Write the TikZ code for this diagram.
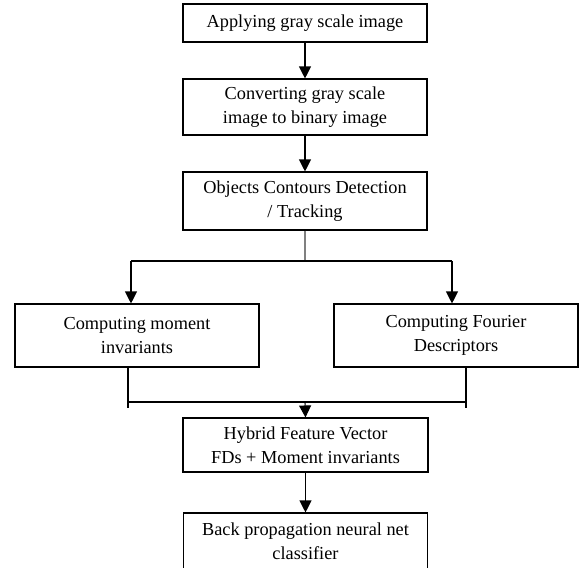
\documentclass[tikz,border=0pt]{standalone}
\usepackage{fontspec}
\setmainfont{Liberation Serif}
\usetikzlibrary{arrows.meta}
\begin{document}
\begin{tikzpicture}[x=1pt,y=-1pt,
  box/.style={draw, line width=1.1pt, minimum width=244pt, inner sep=0pt, align=center,
    font=\fontsize{18.3}{24}\selectfont},
  arr/.style={line width=1.1pt, -{Triangle[length=12pt,width=12pt]}},
  ln/.style={line width=1.1pt}]
\useasboundingbox (0,0) rectangle (579,568);
\node[box, minimum height=38pt] (b1) at (305,23) {Applying gray scale image};
\node[box, minimum height=56pt] (b2) at (305,107) {Converting gray scale\\image to binary image};
\node[box, minimum height=58pt] (b3) at (305,201) {Objects Contours Detection\\/ Tracking};
\node[box, minimum height=63pt] (bl) at (137,335.5) {Computing moment\\invariants};
\node[box, minimum height=63pt] (br) at (456,335.5) {Computing Fourier\\Descriptors};
\node[box, minimum height=54pt, minimum width=245pt] (b4) at (305.5,445) {Hybrid Feature Vector\\FDs + Moment invariants};
\node[box, minimum height=56pt] (b5) at (305.5,541) {Back propagation neural net\\classifier};
\coordinate (j1) at (305,261);
\coordinate (jl) at (131,261);
\coordinate (jr) at (452,261);
\coordinate (kl) at (128,402);
\coordinate (kr) at (466,402);
\coordinate (kc) at (305,402);
\draw[arr] (b1) -- (b2);
\draw[arr] (b2) -- (b3);
\draw[ln, gray] (b3.south) -- (j1);
\draw[ln] (jl) -- (jr);
\draw[arr] (jl) -- (jl |- bl.north);
\draw[arr] (jr) -- (jr |- br.north);
\draw[ln] (kl |- bl.south) -- (128,408);
\draw[ln] (kr |- br.south) -- (466,408);
\draw[ln] (kl) -- (kr);
\draw[arr] (kc) -- (b4.north);
\draw[arr] (b4) -- (b5);
\end{tikzpicture}
\end{document}
